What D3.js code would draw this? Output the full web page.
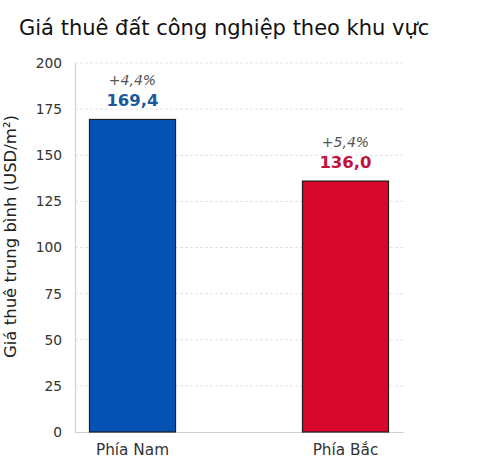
<!DOCTYPE html>
<html><head><meta charset="utf-8">
<script src="https://cdn.jsdelivr.net/npm/d3@7/dist/d3.min.js"></script>
<style>body{margin:0;background:#fff}svg{display:block}text{font-family:"DejaVu Sans",sans-serif}</style>
</head><body><div id="c"></div>
<script>
const categories = ["Phía Nam", "Phía Bắc"];
const values = [169.4, 136.0];
const valueLabels = ["169,4", "136,0"];
const changeLabels = ["+4,4%", "+5,4%"];
const yTicks = [0, 25, 50, 75, 100, 125, 150, 175, 200];
const barColors = ["#0453b4", "#d9072b"];
const labelColors = ["#1a5a9c", "#c0143c"];

const W = 504, H = 472;
const m = {left: 75, right: 101, top: 63, bottom: 40};
const svg = d3.select("#c").append("svg").attr("width", W).attr("height", H);

const x = d3.scaleBand().domain(categories).range([m.left, W - m.right]).paddingInner(0.596).paddingOuter(0.068);
const y = d3.scaleLinear().domain([0, 200]).range([H - m.bottom, m.top]);

svg.append("text").attr("x", 19).attr("y", 35).attr("font-size", 21).attr("fill", "#111")
  .text("Giá thuê đất công nghiệp theo khu vực");

// grid
svg.append("g").selectAll("line").data(yTicks.filter(d => d > 0)).join("line")
  .attr("x1", m.left).attr("x2", W - m.right)
  .attr("y1", d => y(d)).attr("y2", d => y(d))
  .attr("stroke", "#dcdcdc").attr("stroke-width", 0.8).attr("stroke-dasharray", "3,2");

// y axis
const ya = svg.append("g").attr("transform", `translate(${m.left},0)`)
  .call(d3.axisLeft(y).tickValues(yTicks).tickSize(0).tickPadding(13));
ya.select(".domain").attr("stroke", "#d0d0d0").attr("stroke-width", 1.2);
ya.selectAll("text").attr("font-size", 13.8).attr("fill", "#333").attr("font-family", "DejaVu Sans");

// x axis
const xa = svg.append("g").attr("transform", `translate(0,${H - m.bottom})`)
  .call(d3.axisBottom(x).tickSize(0).tickPadding(12));
xa.select(".domain").attr("stroke", "#d0d0d0").attr("stroke-width", 1.2);
xa.selectAll("text").attr("font-size", 15.3).attr("fill", "#333").attr("font-family", "DejaVu Sans");

svg.append("text").attr("transform", `translate(16,236.5) rotate(-90)`)
  .attr("text-anchor", "middle").attr("font-size", 16.5).attr("fill", "#222")
  .text("Giá thuê trung bình (USD/m²)");

// bars
svg.append("g").selectAll("rect").data(values).join("rect")
  .attr("x", (d, i) => x(categories[i])).attr("width", x.bandwidth())
  .attr("y", d => y(d)).attr("height", d => y(0) - y(d))
  .attr("fill", (d, i) => barColors[i]).attr("stroke", "#1e1e1e").attr("stroke-width", 1.2);

svg.append("g").selectAll("text").data(values).join("text")
  .attr("x", (d, i) => x(categories[i]) + x.bandwidth() / 2).attr("y", d => y(d) - 13)
  .attr("text-anchor", "middle").attr("font-size", 16.5).attr("font-weight", "bold")
  .attr("fill", (d, i) => labelColors[i]).text((d, i) => valueLabels[i]);

svg.append("g").selectAll("text").data(values).join("text")
  .attr("x", (d, i) => x(categories[i]) + x.bandwidth() / 2).attr("y", d => y(d) - 34)
  .attr("text-anchor", "middle").attr("font-size", 14).attr("font-style", "italic")
  .attr("fill", "#555").text((d, i) => changeLabels[i]);
</script></body></html>
